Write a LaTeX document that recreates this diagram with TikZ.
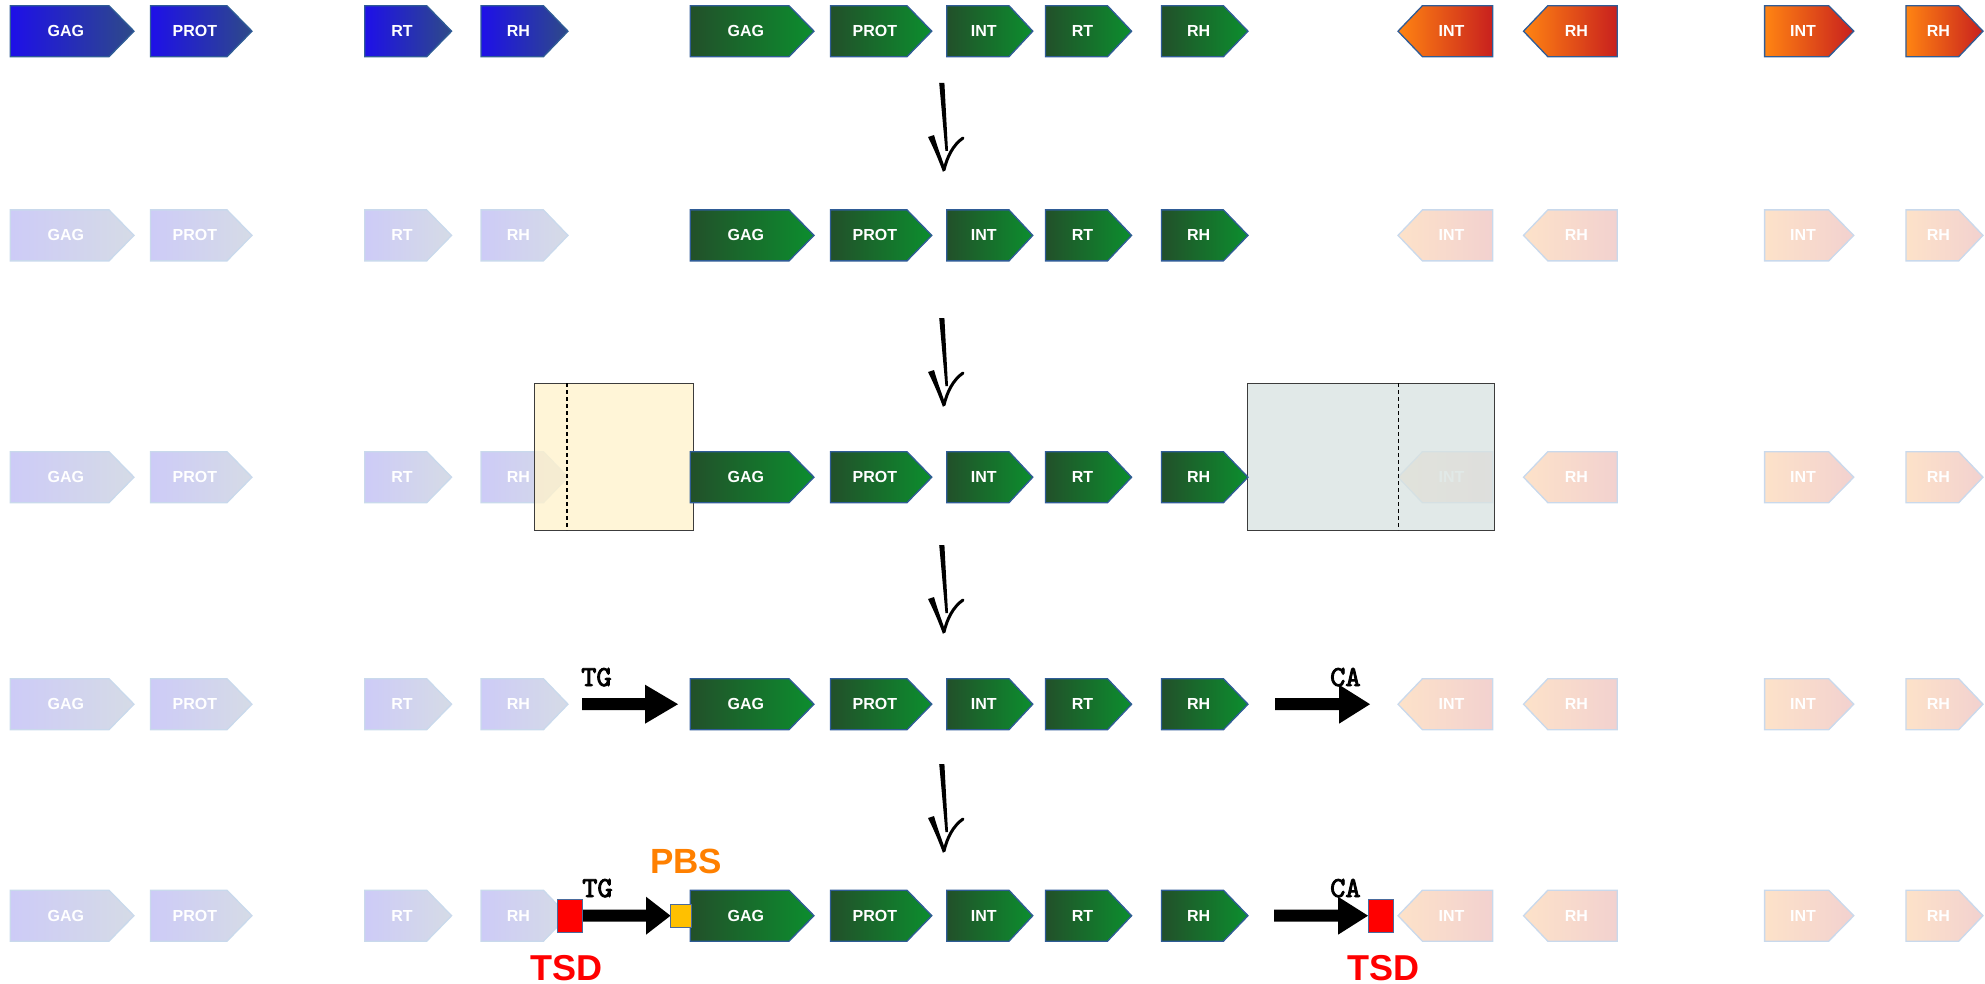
\documentclass[tikz,border=0pt]{standalone}
\usepackage{fontspec}
\setmainfont{Liberation Sans}
\newfontfamily\cour{lmmono10-regular}[Extension=.otf, AutoFakeBold=3]
\definecolor{bluL}{HTML}{1E10E8}
\definecolor{bluR}{HTML}{2E4A88}
\definecolor{grnL}{HTML}{22502A}
\definecolor{grnR}{HTML}{0C8E2E}
\definecolor{orgL}{HTML}{FF8412}
\definecolor{orgR}{HTML}{C8201E}
\definecolor{fbluL}{HTML}{CDCBF7}
\definecolor{fbluR}{HTML}{D5DBE6}
\definecolor{forgL}{HTML}{FDE2C9}
\definecolor{forgR}{HTML}{F2D1CF}
\definecolor{gborder}{HTML}{2F5C96}
\definecolor{fborder}{HTML}{C9D9EC}
\definecolor{boxyel}{HTML}{FFF2CC}
\definecolor{boxgry}{HTML}{D9E3E1}
\definecolor{boxline}{HTML}{3C3C3C}
\definecolor{pbsorange}{HTML}{FF8000}
\definecolor{pbsfill}{HTML}{FFC000}
\definecolor{tsdborder}{HTML}{4A6A9C}
\tikzset{
  bluegene/.style={draw=gborder, line width=1.3pt, left color=bluL, right color=bluR},
  greengene/.style={draw=gborder, line width=1.3pt, left color=grnL, right color=grnR},
  orangegene/.style={draw=gborder, line width=1.3pt, left color=orgL, right color=orgR},
  fbluegene/.style={draw=fborder, line width=1.3pt, left color=fbluL, right color=fbluR},
  forangegene/.style={draw=fborder, line width=1.3pt, left color=forgL, right color=forgR},
  genetext/.style={text=white, font=\bfseries\fontsize{16}{19}\selectfont, inner sep=0pt},
  seqtext/.style={font=\cour\bfseries\fontsize{29}{32}\selectfont, inner sep=0pt},
  tsdtext/.style={font=\bfseries\fontsize{36}{40}\selectfont, text=red, inner sep=0pt},
  pbstext/.style={font=\bfseries\fontsize{35}{40}\selectfont, text=pbsorange, inner sep=0pt},
  ltrbox/.style={draw=boxline, line width=1pt, fill opacity=0.78},
  cutline/.style={draw=black, line width=1.5pt, dash pattern=on 4pt off 3pt},
  tsdbox/.style={fill=red, draw=tsdborder, line width=1pt},
  pbsbox/.style={fill=pbsfill, draw=tsdborder, line width=1pt},
}
\newcommand\GeneR[7]{%
  \path[#7] (#2,#5-25.5) -- (#3,#5-25.5) -- (#4,#5) -- (#3,#5+25.5) -- (#2,#5+25.5) -- cycle;
  \node[genetext] (#1) at ({(2*#2+#3+#4)/4},#5) {#6};}
\newcommand\GeneL[7]{%
  \path[#7] (#4,#5-25.5) -- (#3,#5-25.5) -- (#2,#5) -- (#3,#5+25.5) -- (#4,#5+25.5) -- cycle;
  \node[genetext] (#1) at ({(2*#4+#3+#2)/4},#5) {#6};}
\newcommand\SideGenes[4]{%
  \GeneR{#1gagb}{10.3}{109}{134}{#2}{GAG}{#3}
  \GeneR{#1protb}{150.4}{227}{252}{#2}{PROT}{#3}
  \GeneR{#1rtb}{364.7}{426.7}{451.6}{#2}{RT}{#3}
  \GeneR{#1rhb}{481}{543.4}{568}{#2}{RH}{#3}
  \GeneL{#1intl}{1398}{1422.4}{1492.7}{#2}{INT}{#4}
  \GeneL{#1rhl}{1523.5}{1547.8}{1617.3}{#2}{RH}{#4}
  \GeneR{#1intr}{1764.6}{1828.7}{1853.8}{#2}{INT}{#4}
  \GeneR{#1rhr}{1905.9}{1958.7}{1983}{#2}{RH}{#4}}
\newcommand\MidGenes[2]{%
  \GeneR{#1gag}{690.3}{789}{814}{#2}{GAG}{greengene}
  \GeneR{#1prot}{830.4}{907}{931.8}{#2}{PROT}{greengene}
  \GeneR{#1int}{946.7}{1009}{1032.8}{#2}{INT}{greengene}
  \GeneR{#1rt}{1045.5}{1107.5}{1131.6}{#2}{RT}{greengene}
  \GeneR{#1rh}{1161.4}{1223.4}{1248}{#2}{RH}{greengene}}
\newcommand\HandArrow[2]{%
  \begin{scope}[shift={(#1,#2)}]
    \fill (-1.8,0) -- (3.4,0) -- (7,68) -- (4.4,68) -- cycle;
    \fill (-13,54) -- (-7,52) .. controls (-3,66) and (1,76) .. (4,85) -- (2,89) .. controls (-2,78) and (-7,66) .. cycle;
    \draw[line width=3pt, line cap=round] (3,87) .. controls (6,74) and (12,62) .. (22,55);
  \end{scope}}
\newcommand\BlockArrow[6]{%
  \coordinate (#1s) at (#2,#5);
  \coordinate (#1t) at (#4,#5);
  \fill (#2,#5-6) -- (#3,#5-6) -- (#3,#5-#6) -- (#4,#5) -- (#3,#5+#6) -- (#3,#5+6) -- (#2,#5+6) -- cycle;}
\begin{document}
\begin{tikzpicture}[x=1pt, y=-1pt]
\useasboundingbox (0,0) rectangle (1985,984);
% row 1
\SideGenes{a}{31.2}{bluegene}{orangegene}
\MidGenes{a}{31.2}
\HandArrow{941}{83}
% row 2
\SideGenes{b}{235.4}{fbluegene}{forangegene}
\MidGenes{b}{235.4}
\HandArrow{941}{318}
% row 3
\SideGenes{c}{477.2}{fbluegene}{forangegene}
\path[ltrbox, fill=boxyel] (534,383) rectangle (693,530);
\path[ltrbox, fill=boxgry] (1247,383) rectangle (1494,530);
\draw[cutline] (566.8,383) -- (566.8,530);
\draw[cutline] (1398.5,383) -- (1398.5,530);
\MidGenes{c}{477.2}
\HandArrow{941}{545}
% row 4
\SideGenes{d}{704.2}{fbluegene}{forangegene}
\MidGenes{d}{704.2}
\BlockArrow{dtg}{582}{645}{678}{704.2}{19.5}
\BlockArrow{dca}{1275}{1339}{1370}{704.2}{19.5}
\node[seqtext, anchor=base west] (dtgl) at (581,686) {TG};
\node[seqtext, anchor=base west] (dcal) at (1330,686) {CA};
\HandArrow{941}{764}
% row 5
\SideGenes{e}{915.7}{fbluegene}{forangegene}
\MidGenes{e}{915.7}
\node[seqtext, anchor=base west] (etgl) at (582,897) {TG};
\node[seqtext, anchor=base west] (ecal) at (1330,897) {CA};
\BlockArrow{etg}{582}{646}{670.5}{915.7}{19}
\BlockArrow{eca}{1274}{1338}{1368}{915.7}{19}
\path[tsdbox] (557,899) rectangle (582,932.7);
\path[tsdbox] (1368,899) rectangle (1393,932.7);
\path[pbsbox] (670.5,904) rectangle (691,927);
\node[pbstext, anchor=base west] (pbs) at (650,873) {PBS};
\node[tsdtext, anchor=base west] (tsdl) at (530,980) {TSD};
\node[tsdtext, anchor=base west] (tsdr) at (1347,980) {TSD};
\end{tikzpicture}
\end{document}
